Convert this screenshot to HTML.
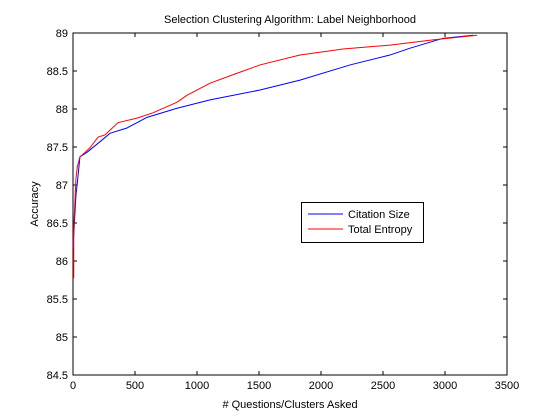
<!DOCTYPE html>
<html><head><meta charset="utf-8"><style>
body{margin:0;background:#fff;}
svg{display:block;font-family:"Liberation Sans",sans-serif;}
</style></head><body>
<svg id="chart" width="560" height="420">
<rect x="0" y="0" width="560" height="420" fill="#fff"/>
<g id="plot"></g>
</svg>
<script>
const xTicks=[0,500,1000,1500,2000,2500,3000,3500];
const yTicks=[84.5,85,85.5,86,86.5,87,87.5,88,88.5,89];
const citationX=[0,24,35,56,113,218,298,435,597,839,1105,1508,1831,2234,2556,2718,2984,3226];
const citationY=[86.18,86.87,87.03,87.37,87.43,87.57,87.68,87.75,87.89,88.01,88.12,88.25,88.38,88.58,88.71,88.80,88.93,88.97];
const entropyX=[0,6,6,24,35,56,97,137,202,258,363,516,645,839,919,1105,1323,1508,1831,2177,2556,2903,3258];
const entropyY=[85.78,85.78,86.43,87.09,87.24,87.37,87.43,87.49,87.63,87.66,87.82,87.88,87.95,88.09,88.18,88.34,88.47,88.58,88.71,88.79,88.84,88.91,88.97];
const L=73,R=507,T=33,B=375;
const xs=v=>L+(v-0)/3500*(R-L);
const ys=v=>B-(v-84.5)/4.5*(B-T);
const NS='http://www.w3.org/2000/svg';
const g=document.getElementById('plot');
function mk(t,a,txt){const e=document.createElementNS(NS,t);for(const k in a)e.setAttribute(k,a[k]);if(txt!==undefined)e.textContent=txt;g.appendChild(e);return e;}
let e=mk('rect',{x:L,y:T,width:R-L,height:B-T,fill:'none',stroke:'#000','stroke-width':1});


xTicks.forEach(v=>{
 const x=xs(v);
 mk('line',{x1:x,x2:x,y1:B,y2:B-4,stroke:'#000'});
 mk('line',{x1:x,x2:x,y1:T,y2:T+4,stroke:'#000'});
 const t=mk('text',{x:x,y:B+14,'text-anchor':'middle','font-size':11},String(v));
 
 
});
yTicks.forEach(v=>{
 const y=ys(v);
 mk('line',{x1:L,x2:L+4,y1:y,y2:y,stroke:'#000'});
 mk('line',{x1:R,x2:R-4,y1:y,y2:y,stroke:'#000'});
 const t=mk('text',{x:L-5,y:y+4,'text-anchor':'end','font-size':11},String(v));
 
 
});
function series(X,Y,c,name){
 const p=mk('polyline',{points:X.map((v,i)=>xs(v)+','+ys(Y[i])).join(' '),fill:'none',stroke:c,'stroke-width':1});
 
 
}
series(citationX,citationY,'#00f','citation-size-line');
series(entropyX,entropyY,'#f00','total-entropy-line');
e=mk('text',{x:290,y:23,'text-anchor':'middle','font-size':11},'Selection Clustering Algorithm: Label Neighborhood');


e=mk('text',{x:290,y:408,'text-anchor':'middle','font-size':11},'# Questions/Clusters Asked');


e=mk('text',{x:38,y:204,'text-anchor':'middle','font-size':11,transform:'rotate(-90 38 204)'},'Accuracy');


e=mk('rect',{x:301.5,y:202.5,width:122,height:40,fill:'#fff',stroke:'#000'});


mk('line',{x1:308,x2:343,y1:214,y2:214,stroke:'#00f'});
e=mk('text',{x:348,y:218,'font-size':11},'Citation Size');


mk('line',{x1:308,x2:343,y1:229,y2:229,stroke:'#f00'});
e=mk('text',{x:348,y:233,'font-size':11},'Total Entropy');


</script>
</body></html>
